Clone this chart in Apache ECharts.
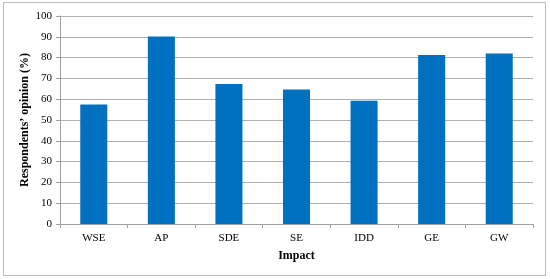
<!DOCTYPE html>
<html><head><meta charset="utf-8">
<script src="https://cdn.jsdelivr.net/npm/echarts@6/dist/echarts.min.js"></script>
<style>html,body{margin:0;padding:0;background:#fff}#c{width:550px;height:279px;}
#frame{position:absolute;left:3px;top:2px;width:541px;height:272px;border:1px solid #bdbdbd;pointer-events:none}</style>
</head><body><div id="c"></div><div id="frame"></div>
<script>
const categories = ['WSE','AP','SDE','SE','IDD','GE','GW'];
const values = [57.5, 90.2, 67.3, 64.7, 59.2, 81.2, 82];
const yTicks = {min: 0, max: 100, interval: 10};
const font = '"Liberation Serif", "DejaVu Serif", serif';
const chart = echarts.init(document.getElementById('c'), null, {renderer: 'canvas'});
chart.setOption({
  animation: false,
  grid: {left: 60, right: 17, top: 16, bottom: 55},
  xAxis: {
    type: 'category', data: categories,
    name: 'Impact', nameLocation: 'middle', nameGap: 26,
    nameTextStyle: {fontFamily: font, fontWeight: 'bold', fontSize: 12, color: '#000'},
    axisLine: {lineStyle: {color: '#a0a0a0'}},
    axisTick: {show: true, length: 4, lineStyle: {color: '#a0a0a0'}},
    axisLabel: {fontFamily: font, fontSize: 11, color: '#000', margin: 9}
  },
  yAxis: {
    type: 'value', min: yTicks.min, max: yTicks.max, interval: yTicks.interval,
    name: 'Respondents\u2019 opinion (%)', nameLocation: 'middle', nameGap: 29,
    nameMoveOverlap: false,
    nameTextStyle: {fontFamily: font, fontWeight: 'bold', fontSize: 12, color: '#000'},
    axisLine: {show: true, lineStyle: {color: '#a0a0a0'}},
    axisTick: {show: true, length: 4, inside: false, lineStyle: {color: '#a0a0a0'}},
    axisLabel: {fontFamily: font, fontSize: 11, color: '#000', margin: 8},
    splitLine: {lineStyle: {color: '#b0b0b0', width: 1}}
  },
  series: [{
    type: 'bar', data: values, barWidth: '40%',
    itemStyle: {color: '#0070C0'}
  }]
});
</script></body></html>
